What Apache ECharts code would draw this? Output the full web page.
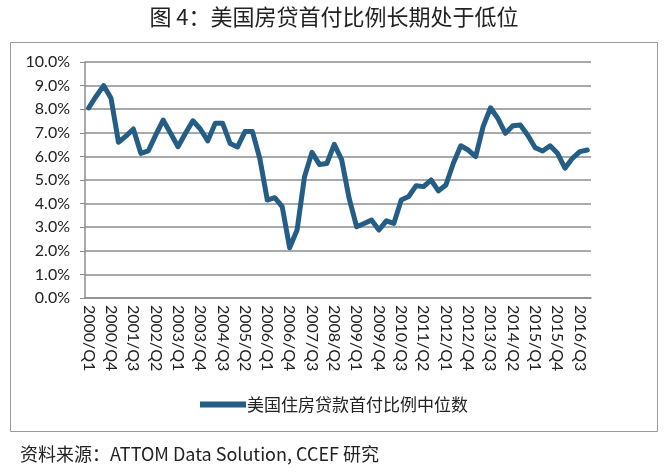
<!DOCTYPE html>
<html>
<head>
<meta charset="utf-8">
<script src="https://cdn.jsdelivr.net/npm/echarts@6/dist/echarts.min.js"></script>
<style>
  html, body { margin: 0; padding: 0; background: #fff; }
  #chart { width: 668px; height: 474px; }
</style>
</head>
<body>
<div id="chart"></div>
<script>
// 季度标签 2000/Q1 - 2016/Q4
var years = [2000, 2001, 2002, 2003, 2004, 2005, 2006, 2007, 2008,
             2009, 2010, 2011, 2012, 2013, 2014, 2015, 2016];
var quarters = ['Q1', 'Q2', 'Q3', 'Q4'];
var categories = [];
years.forEach(function (y) {
    quarters.forEach(function (q) { categories.push(y + '/' + q); });
});

// 美国住房贷款首付比例中位数 (%)
var downPayment = [
    8.06, 8.55, 9.00, 8.46, 6.60, 6.86, 7.16, 6.13, 6.23, 6.90,
    7.54, 6.98, 6.41, 6.98, 7.51, 7.16, 6.66, 7.40, 7.40, 6.55,
    6.40, 7.05, 7.05, 5.90, 4.15, 4.25, 3.87, 2.13, 2.88, 5.14,
    6.17, 5.66, 5.70, 6.51, 5.85, 4.22, 3.02, 3.16, 3.30, 2.88,
    3.27, 3.16, 4.15, 4.30, 4.76, 4.72, 5.00, 4.54, 4.79, 5.71,
    6.45, 6.27, 5.99, 7.26, 8.06, 7.60, 6.98, 7.30, 7.33, 6.90,
    6.37, 6.23, 6.45, 6.13, 5.50, 5.92, 6.20, 6.27
];

var seriesName = '美国住房贷款首付比例中位数';
var titleText = '图 4：美国房贷首付比例长期处于低位';
var sourceText = '资料来源：ATTOM Data Solution, CCEF 研究';

var myChart = echarts.init(document.getElementById('chart'));
var lineColor = '#245d86';
var gridColor = '#8c8c8c';
var labelFont = 'Lato, "Noto Sans CJK SC", sans-serif';

var option = {
    animation: false,
    backgroundColor: '#fff',
    title: {
        text: titleText,
        left: 'center',
        top: 1,
        textStyle: {
            fontFamily: '"Noto Sans CJK SC", sans-serif',
            fontWeight: 'normal',
            fontSize: 22,
            color: '#222'
        }
    },
    graphic: [
        {
            type: 'rect',
            shape: { x: 10.5, y: 42.5, width: 647, height: 389 },
            style: { fill: 'none', stroke: '#9a9a9a', lineWidth: 1 },
            z: -1
        },
        {
            type: 'text',
            left: 20,
            top: 445,
            style: {
                text: sourceText,
                font: '18px "Noto Sans CJK SC", sans-serif',
                fill: '#222'
            }
        }
    ],
    legend: {
        data: [seriesName],
        top: 391,
        left: 'center',
        itemWidth: 46,
        itemHeight: 6,
        itemGap: 4,
        icon: 'rect',
        textStyle: {
            fontFamily: '"Noto Sans CJK SC", sans-serif',
            fontSize: 17,
            color: '#222',
            padding: [0, 0, 0, -4]
        }
    },
    grid: {
        left: 85,
        right: 77,
        top: 62,
        bottom: 176
    },
    xAxis: {
        type: 'category',
        data: categories,
        boundaryGap: true,
        axisLine: { lineStyle: { color: gridColor, width: 1.5 } },
        axisTick: {
            interval: 0,
            length: 5,
            lineStyle: { color: gridColor }
        },
        axisLabel: {
            interval: 2,
            rotate: -90,
            margin: 7,
            fontFamily: labelFont,
            fontSize: 16,
            color: '#222'
        }
    },
    yAxis: {
        type: 'value',
        min: 0,
        max: 10,
        interval: 1,
        axisLine: { show: true, lineStyle: { color: gridColor, width: 1.5 } },
        axisTick: { show: true, length: 5, lineStyle: { color: gridColor } },
        splitLine: { lineStyle: { color: gridColor, width: 1.5 } },
        axisLabel: {
            margin: 15,
            fontFamily: labelFont,
            fontSize: 16,
            color: '#222',
            formatter: function (v) { return v.toFixed(1) + '%'; }
        }
    },
    series: [{
        name: seriesName,
        type: 'line',
        data: downPayment,
        symbol: 'none',
        lineStyle: { color: lineColor, width: 5, join: 'round', cap: 'round' },
        itemStyle: { color: lineColor }
    }]
};

myChart.setOption(option);
</script>
</body>
</html>
